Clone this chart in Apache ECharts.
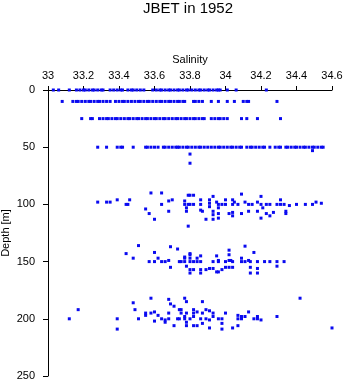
<!DOCTYPE html>
<html>
<head>
<meta charset="utf-8">
<script src="https://cdn.jsdelivr.net/npm/echarts@6/dist/echarts.min.js"></script>
<style>html,body{margin:0;padding:0;background:#fff;}#c{width:346px;height:384px;}</style>
</head>
<body>
<div id="c"></div>
<script>
var titleText = 'JBET in 1952';
var xName = 'Salinity';
var yName = 'Depth [m]';
var xTicks = [33, 33.2, 33.4, 33.6, 33.8, 34, 34.2, 34.4, 34.6];
var yTicks = [0, 50, 100, 150, 200, 250];

// salinity at standard depths
var sal0 = [33.03,33.06,33.12,33.16,33.18,33.20,33.21,33.23,33.25,33.26,33.28,33.30,33.31,33.35,33.37,33.39,33.41,33.42,33.45,33.47,33.48,33.50,33.52,33.54,33.59,33.61,33.63,33.64,33.66,33.68,33.69,33.71,33.73,33.74,33.76,33.78,33.79,33.81,33.83,33.85,33.86,33.88,33.90,33.91,33.93,33.95,33.96,33.97,34.01,34.06,34.23];
var sal10 = [33.08,33.14,33.16,33.17,33.19,33.21,33.23,33.24,33.26,33.28,33.29,33.31,33.33,33.35,33.38,33.40,33.42,33.43,33.45,33.47,33.49,33.51,33.52,33.54,33.56,33.57,33.59,33.61,33.63,33.64,33.66,33.68,33.69,33.71,33.73,33.74,33.76,33.77,33.82,33.83,33.85,33.87,33.92,33.96,34.01,34.05,34.10,34.12,34.13,34.29];
var sal25 = [33.19,33.24,33.25,33.29,33.31,33.33,33.34,33.36,33.38,33.39,33.41,33.43,33.45,33.46,33.48,33.50,33.51,33.53,33.55,33.56,33.58,33.60,33.61,33.63,33.65,33.66,33.68,33.70,33.72,33.73,33.75,33.77,33.78,33.80,33.82,33.83,33.85,33.87,33.88,33.92,33.94,33.96,33.97,33.99,34.01,34.09,34.12,34.18,34.31];
var sal50 = [33.28,33.33,33.39,33.41,33.42,33.48,33.55,33.56,33.58,33.60,33.62,33.65,33.66,33.68,33.70,33.72,33.73,33.74,33.76,33.78,33.79,33.81,33.83,33.85,33.86,33.88,33.90,33.92,33.94,33.96,33.97,33.99,34.01,34.03,34.04,34.06,34.08,34.09,34.12,34.14,34.15,34.17,34.19,34.21,34.22,34.25,34.28,34.30,34.31,34.34,34.35,34.37,34.39,34.40,34.42,34.44,34.45,34.47,34.49,34.50,34.52,34.54,34.55];

// [salinity, depth] pairs
var extra50 = [[33.80,56],[33.80,64],[34.49,53]];
var band100 = [[33.28,98],[33.33,98],[33.35,98],[33.39,96],[33.44,100],[33.45,100],[33.46,96],[33.55,104],[33.57,108],[33.58,90],[33.60,113],[33.64,90],[33.64,100],[33.68,97],[33.68,106],[33.70,96],
[33.77,97],[33.77,100],[33.78,103],[33.78,106],[33.79,92],[33.79,100],[33.80,92],[33.80,100],[33.82,92],[33.82,100],
[33.86,96],[33.86,100],[33.86,105],[33.87,106],
[33.91,96],[33.91,99],[33.91,102],[33.93,106],[33.93,109],[33.93,113],[33.89,113],[33.93,93],
[33.95,98],[33.96,100],[33.96,103],[33.96,108],[33.96,112],
[33.98,100],[34.00,96],[34.00,100],[34.02,108],
[34.04,96],[34.04,100],[34.04,107],[34.04,110],
[34.05,98],[34.07,100],[34.09,108],[34.09,91],
[34.11,98],[34.13,100],[34.13,106],
[34.15,100],[34.18,98],[34.18,106],[34.20,100],[34.21,103],[34.20,112],[34.20,93],
[34.23,100],[34.23,108],[34.25,100],[34.25,110],[34.27,107],
[34.29,100],[34.31,96],[34.31,100],[34.33,100],[34.34,106],[34.34,108],
[34.36,101],[34.40,100],[34.45,100],[34.49,100],[34.51,98],[34.54,99],[33.79,119]];
var band150 = [[33.51,136],[33.44,143],[33.48,147],[33.57,150],[33.60,142],[33.60,150],[33.62,147],[33.64,150],[33.66,150],[33.68,149],[33.69,137],[33.69,155],[33.73,139],[33.75,150],[33.77,146],[33.77,150],[33.78,154],[33.80,143],[33.80,157],
[34.11,136.5],[34.16,142],[33.80,144],[33.77,147],[33.80,147],[33.74,150],[33.80,150],[33.82,150],
[33.84,147],[33.86,145],[33.84,150],[33.86,150],[33.82,157],[33.86,157],[33.80,160],[33.86,160],
[33.89,157],[33.91,156],[33.93,156],[33.95,159],[33.96,159],[33.93,150],[33.95,145],[33.96,149],[33.96,150],
[33.98,157],[34.00,155],[34.00,150],[34.02,140],[34.02,144],[34.02,149],[34.03,149],[34.04,150],[34.04,155],[34.02,155],
[34.09,147],[34.09,150],[34.11,150],[34.13,149],[34.14,150],[34.14,155],[34.14,160],[34.18,150],[34.18,156],[34.18,160],[34.22,150],[34.25,150],[34.29,150],[34.29,154],[34.33,150]];
var band200 = [[33.12,200],[33.17,192],[33.39,200],[33.39,209],[33.48,186],[33.49,192],[33.51,200],[33.55,195],[33.55,197],[33.58,182],[33.58,195],[33.60,194],[33.60,202],[33.62,197],[33.64,200],[33.66,201],[33.66,203],[33.68,183],[33.68,195],[33.69,187],[33.71,189],[33.68,200],[33.71,206],[33.73,200],[33.75,192],[33.75,195],[33.77,182],[33.78,185],[33.77,198],[33.77,200],[33.78,195],[33.78,206],[33.80,200],
[33.74,192],[33.74,200],[33.78,203],[33.82,192],[33.82,195],[33.82,198],[33.84,194],[33.82,206],[33.84,206],[33.87,185],[33.87,195],[33.86,200],[33.87,204],[33.89,192],[33.91,193],[33.93,195],[33.93,198],[33.91,201],[33.91,208],[33.89,200],[33.96,200],[33.98,200],[33.98,204],[33.98,209],[34.00,195],[34.04,208],[34.07,197],[34.09,198],[34.07,206],[34.07,200],[34.09,200],[34.11,198],[34.13,194],[34.16,200],[34.18,198],[34.18,200],[34.20,201],[34.29,198],[34.42,182],[34.60,208]];

var points = [];
sal0.forEach(function(s){ points.push([s, 0]); });
sal10.forEach(function(s){ points.push([s, 10]); });
sal25.forEach(function(s){ points.push([s, 25]); });
sal50.forEach(function(s){ points.push([s, 50]); });
points = points.concat(extra50, band100, band150, band200);

var FONT = 'Liberation Sans, Arial, sans-serif';
var chart = echarts.init(document.getElementById('c'), null, {renderer: 'canvas'});
chart.setOption({
  animation: false,
  backgroundColor: '#fff',
  grid: {left: 48, top: 90, width: 284, height: 286, containLabel: false, outerBoundsMode: 'none'},
  graphic: [{
    type: 'text', x: 188, y: 8.5,
    style: {text: titleText, font: '15px ' + FONT, fill: '#000', textAlign: 'center', textVerticalAlign: 'middle', align: 'center', verticalAlign: 'middle'}
  }],
  xAxis: {
    type: 'value', position: 'top', min: xTicks[0], max: xTicks[xTicks.length - 1], interval: 0.2,
    name: xName, nameLocation: 'middle', nameGap: 25, nameMoveOverlap: false,
    nameTextStyle: {fontSize: 11, fontFamily: FONT, color: '#000'},
    axisLine: {show: true, onZero: false, lineStyle: {color: '#000', width: 1}},
    axisTick: {show: true, inside: false, length: 4, lineStyle: {color: '#000'}},
    axisLabel: {fontSize: 11, fontFamily: FONT, color: '#000', margin: 9,
      formatter: function(v){ return String(parseFloat(v.toFixed(1))); }},
    splitLine: {show: false}
  },
  yAxis: {
    type: 'value', inverse: true, min: yTicks[0], max: yTicks[yTicks.length - 1], interval: 50,
    name: yName, nameLocation: 'middle', nameGap: 37, nameMoveOverlap: false,
    nameTextStyle: {fontSize: 11, fontFamily: FONT, color: '#000'},
    axisLine: {show: true, onZero: false, lineStyle: {color: '#000', width: 1}},
    axisTick: {show: true, inside: false, length: 5, lineStyle: {color: '#000'}},
    axisLabel: {fontSize: 11, fontFamily: FONT, color: '#000', margin: 13},
    splitLine: {show: false}
  },
  series: [{
    type: 'scatter', data: points, symbol: 'rect', symbolSize: 3,
    itemStyle: {color: '#0a0af0', opacity: 1},
    emphasis: {disabled: true}
  }]
});
</script>
</body>
</html>
